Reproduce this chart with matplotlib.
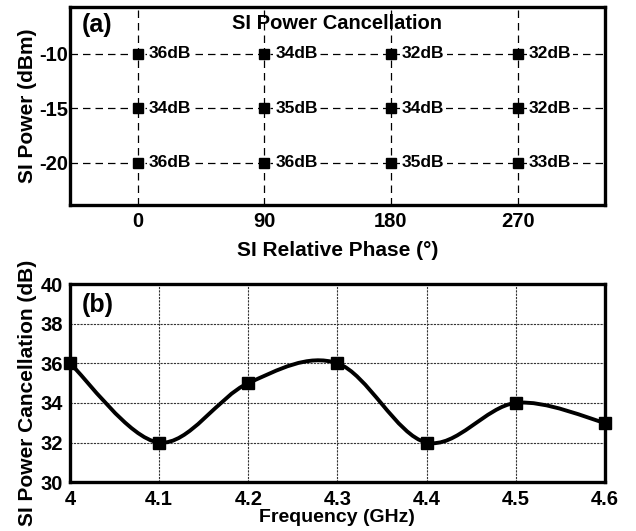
import numpy as np
import matplotlib
matplotlib.use("Agg")
import matplotlib.pyplot as plt
from matplotlib.path import Path
from matplotlib.patches import PathPatch

plt.rcParams['font.family'] = ['Liberation Sans', 'DejaVu Sans']
plt.rcParams['font.weight'] = 'bold'
plt.rcParams['axes.labelweight'] = 'bold'

# ---- data (a)
phases = [0, 90, 180, 270]
powers = [-10, -15, -20]
cancel_a = [[36, 34, 32, 32],   # -10 dBm
            [34, 35, 34, 32],   # -15 dBm
            [36, 36, 35, 33]]   # -20 dBm

# ---- data (b)
freq = [4.0, 4.1, 4.2, 4.3, 4.4, 4.5, 4.6]
cancel_b = [36, 32, 35, 36, 32, 34, 33]
freq_ticks = [4.0, 4.1, 4.2, 4.3, 4.4, 4.5, 4.6]
freq_ticklabels = ['4', '4.1', '4.2', '4.3', '4.4', '4.5', '4.6']
cancel_ticks = [30, 32, 34, 36, 38, 40]

fig = plt.figure(figsize=(6.36, 5.31), dpi=100)
axa = fig.add_axes([0.110, 0.614, 0.841, 0.373])
axb = fig.add_axes([0.110, 0.092, 0.841, 0.373])

fs_tick = 14.5
fs_lab = 15
for ax in (axa, axb):
    for s in ax.spines.values():
        s.set_linewidth(2.4)
    ax.tick_params(direction='in', length=0, labelsize=fs_tick)

# ---- (a)
axa.set_xlim(-48, 332)
axa.set_ylim(-23.9, -5.7)
axa.set_xticks(phases)
axa.set_yticks(powers)
axa.set_xticklabels([str(p) for p in phases], fontweight='bold', fontsize=fs_tick)
axa.set_yticklabels([str(p) for p in powers], fontweight='bold', fontsize=fs_tick)
axa.tick_params(axis='y', pad=1)
axa.tick_params(axis='x', pad=5)
axa.grid(True, color='black', linestyle=(0, (6, 4)), linewidth=0.9)
axa.set_axisbelow(True)
for i, pw in enumerate(powers):
    for j, ph in enumerate(phases):
        axa.plot(ph, pw, marker='s', color='black', markersize=7, zorder=4)
        axa.annotate(f"{cancel_a[i][j]}dB", (ph, pw), xytext=(8, 0),
                     textcoords='offset points', va='center', ha='left',
                     fontsize=12.5, fontweight='bold', zorder=3,
                     bbox=dict(boxstyle='square,pad=0.12', fc='white', ec='none'))
axa.text(0.5, 0.965, 'SI Power Cancellation', transform=axa.transAxes,
         ha='center', va='top', fontsize=14.5, fontweight='bold')
axa.text(0.022, 0.97, '(a)', transform=axa.transAxes, ha='left', va='top',
         fontsize=18, fontweight='bold')
axa.set_xlabel('SI Relative Phase (°)', fontsize=fs_lab, fontweight='bold', labelpad=7)
axa.set_ylabel('SI Power (dBm)', fontsize=fs_lab, fontweight='bold', labelpad=2)

# ---- (b)
axb.set_xlim(4.0, 4.6)
axb.set_ylim(30, 40)
axb.set_xticks(freq_ticks)
axb.set_xticklabels(freq_ticklabels, fontweight='bold', fontsize=fs_tick)
axb.set_yticks(cancel_ticks)
axb.set_yticklabels([str(c) for c in cancel_ticks], fontweight='bold', fontsize=fs_tick)
axb.tick_params(axis='y', pad=5)
axb.tick_params(axis='x', pad=6)
axb.grid(True, color='#333333', linestyle=(0, (2, 1)), linewidth=0.8)
axb.set_axisbelow(True)

# smooth curve (Catmull-Rom via cubic Bezier)
P = np.column_stack([freq, cancel_b]).astype(float)
n = len(P)
verts = [tuple(P[0])]
codes = [Path.MOVETO]
for i in range(n - 1):
    p0 = P[i - 1] if i > 0 else P[i]
    p1 = P[i]
    p2 = P[i + 1]
    p3 = P[i + 2] if i + 2 < n else P[i + 1]
    c1 = p1 + (p2 - p0) / 6.0
    c2 = p2 - (p3 - p1) / 6.0
    verts += [tuple(c1), tuple(c2), tuple(p2)]
    codes += [Path.CURVE4] * 3
patch = PathPatch(Path(verts, codes), fc='none', ec='black', lw=2.8,
                  zorder=3, clip_on=False)
axb.add_patch(patch)
axb.plot(freq, cancel_b, linestyle='none', marker='s', color='black',
         markersize=8, zorder=4, clip_on=False)
axb.text(0.022, 0.955, '(b)', transform=axb.transAxes, ha='left', va='top',
         fontsize=18, fontweight='bold')
axb.set_xlabel('Frequency (GHz)', fontsize=14, fontweight='bold', labelpad=0)
axb.set_ylabel('SI Power Cancellation (dB)', fontsize=fs_lab, fontweight='bold', labelpad=1)
axb.yaxis.set_label_coords(-0.062, 0.45)

fig.savefig('out.png', dpi=100)
